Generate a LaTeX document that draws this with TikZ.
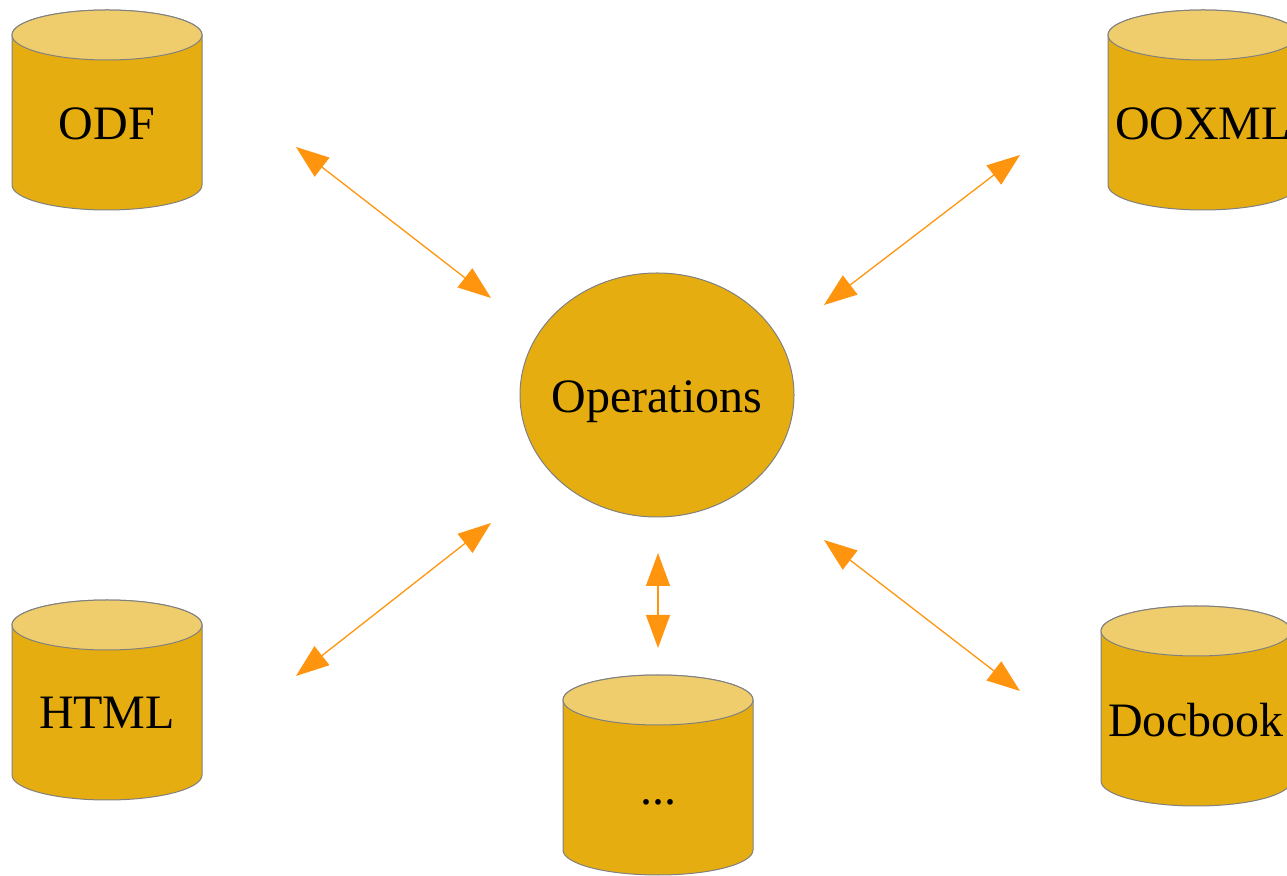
\documentclass[tikz,border=0pt]{standalone}
\usepackage{fontspec}
\setmainfont{Liberation Serif}
\usetikzlibrary{arrows.meta}
\definecolor{cylbody}{RGB}{230,173,16}
\definecolor{cyltop}{RGB}{239,205,108}
\definecolor{cylline}{RGB}{128,128,128}
\definecolor{arr}{RGB}{255,149,14}
\tikzset{
  cylshape/.style={fill=cylbody, draw=cylline, line width=1pt},
  cyltopshape/.style={fill=cyltop, draw=cylline, line width=1pt},
  lbl/.style={font=\fontsize{48}{54}\selectfont, inner sep=0pt, anchor=base},
  conn/.style={draw=arr, line width=1.3pt, {Triangle[length=33pt,width=24pt]}-{Triangle[length=33pt,width=24pt]}}
}
% #1 name, #2 cx (px), #3 top ellipse centre y (px from top), #4 label, #5 baseline y (px from top)
\newcommand\dbcyl[5]{%
  \path[cylshape] ({#2-95},{875-#3}) -- ({#2-95},{725-#3})
    arc[start angle=180,end angle=360,x radius=95,y radius=25]
    -- ({#2+95},{875-#3}) arc[start angle=0,end angle=180,x radius=95,y radius=25] -- cycle;
  \path[cyltopshape] ({#2},{875-#3}) ellipse[x radius=95,y radius=25];
  \node[lbl] (#1) at ({#2},{875-#5}) {#4};
}
\begin{document}
\begin{tikzpicture}[x=1pt,y=1pt]
\useasboundingbox (0,0) rectangle (1287,875);
\clip (0,0) rectangle (1287,875);
\dbcyl{odf}{107}{35}{ODF}{140}
\dbcyl{ooxml}{1203}{35}{OOXML}{140}
\dbcyl{html}{107}{625}{HTML}{729}
\dbcyl{dots}{658}{700}{...}{805}
\dbcyl{docbook}{1196}{631}{Docbook}{737}
\path[fill=cylbody, draw=cylline, line width=1pt] (657,480) ellipse[x radius=137, y radius=122];
\node[lbl] (ops) at (657,462) {Operations};
\coordinate (a1s) at (296,728); \coordinate (a1e) at (491,577);
\coordinate (a2s) at (1020,720); \coordinate (a2e) at (824,570);
\coordinate (a3s) at (491,352); \coordinate (a3e) at (296,199);
\coordinate (a4s) at (824,335); \coordinate (a4e) at (1020,184);
\coordinate (a5s) at (658,322); \coordinate (a5e) at (658,227);
\draw[conn] (a1s) -- (a1e);
\draw[conn] (a2s) -- (a2e);
\draw[conn] (a3s) -- (a3e);
\draw[conn] (a4s) -- (a4e);
\draw[conn] (a5s) -- (a5e);
\end{tikzpicture}
\end{document}
